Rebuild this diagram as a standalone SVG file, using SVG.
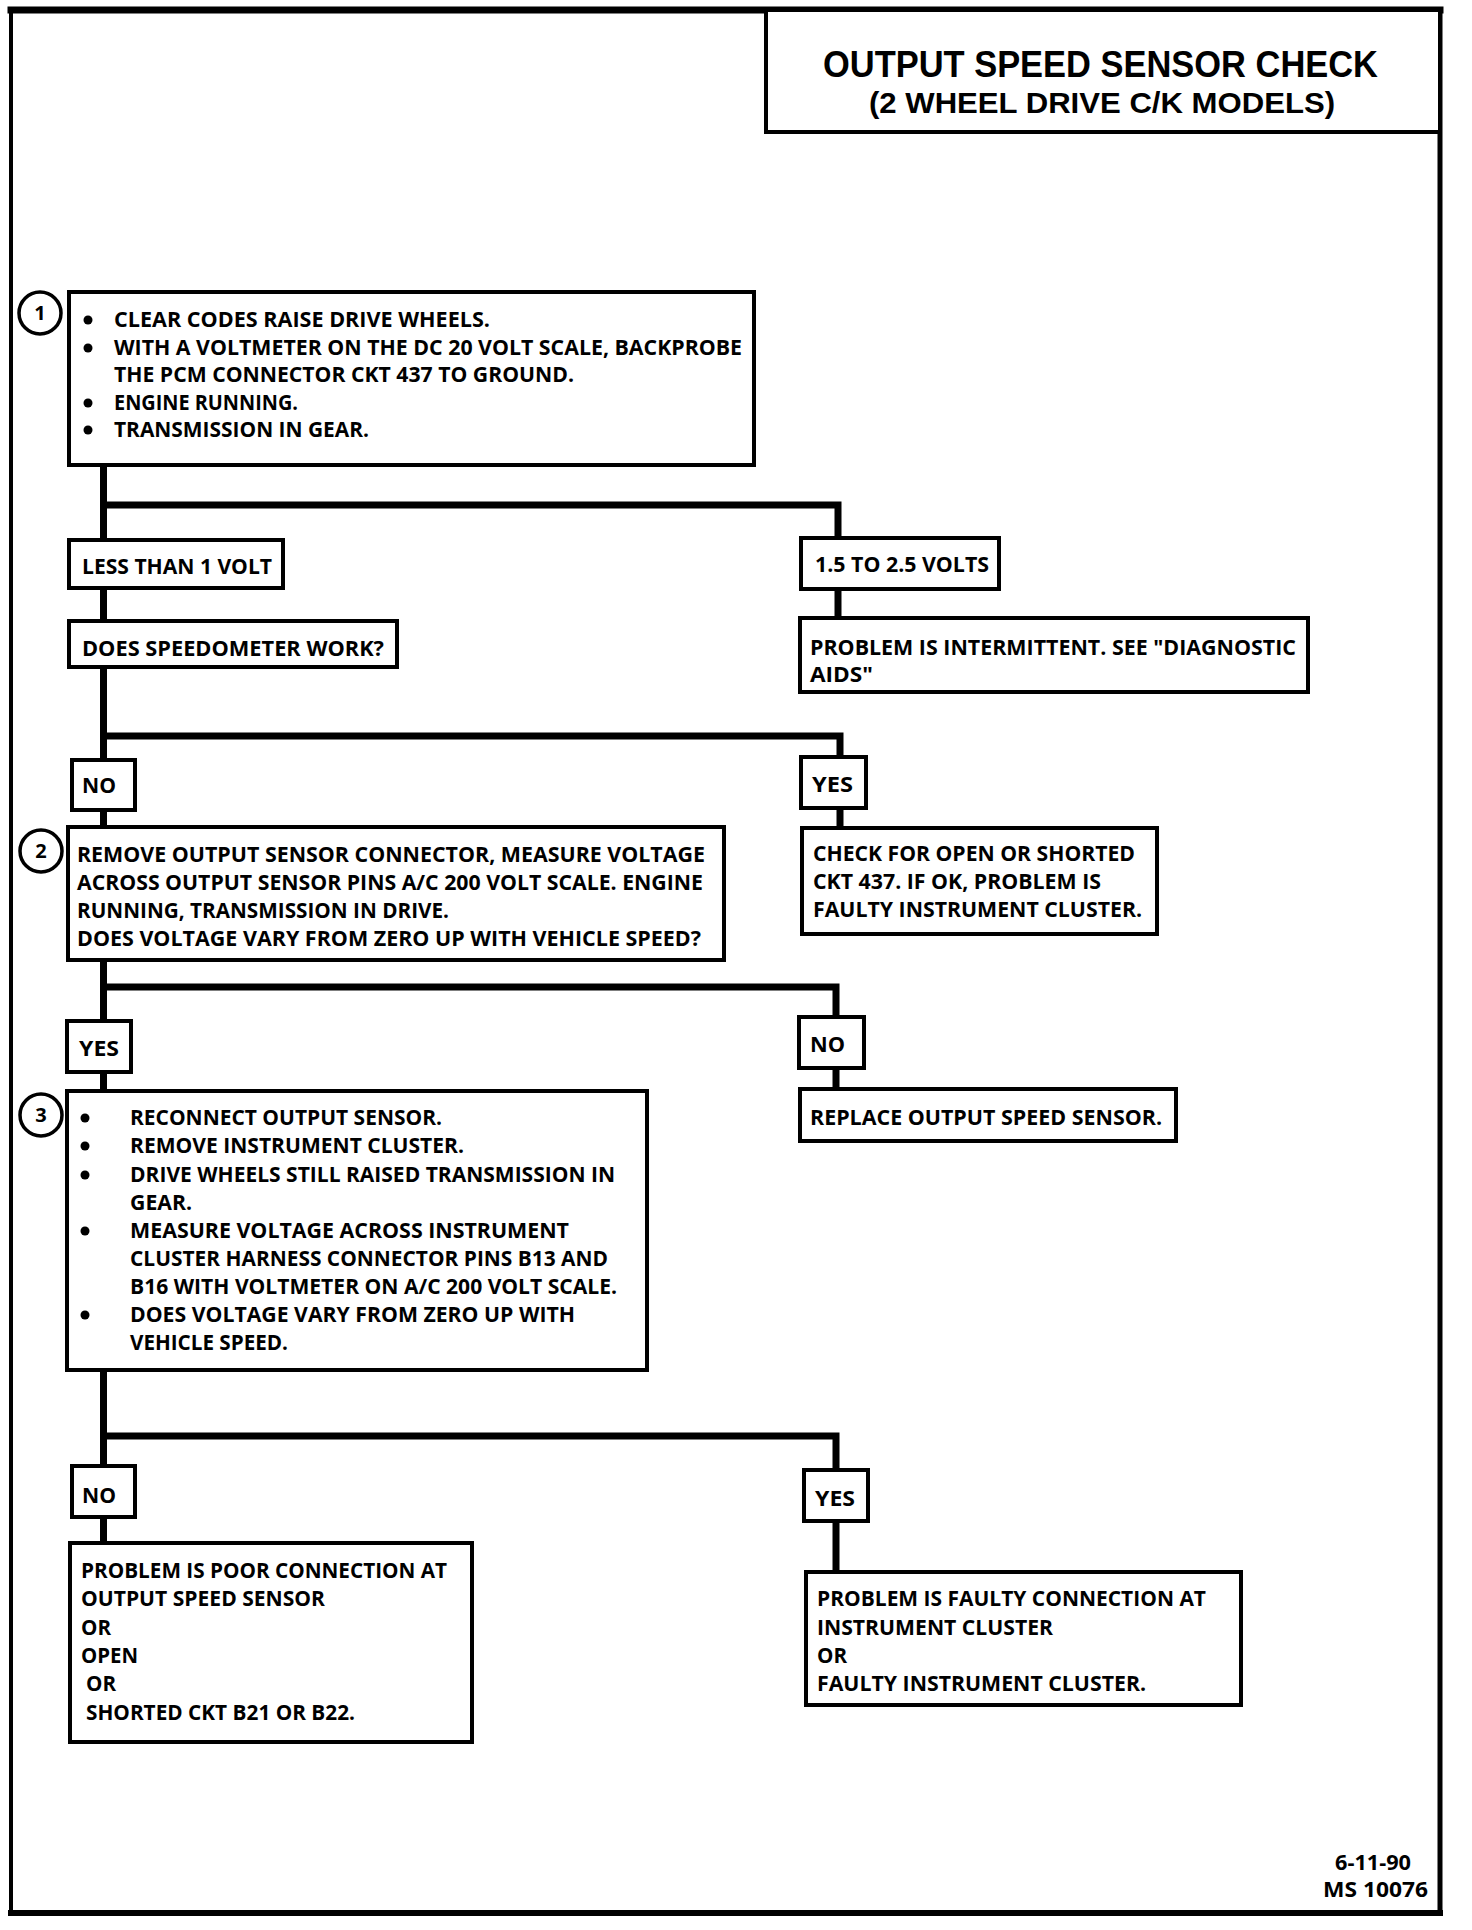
<svg xmlns="http://www.w3.org/2000/svg" width="1472" height="1930" viewBox="0 0 1472 1930">
<style>
.frame{fill:none;stroke:#000;stroke-linecap:square}
.box{fill:#fff;stroke:#000;stroke-width:4}
.conn{fill:none;stroke:#000;stroke-width:7;stroke-linecap:square;stroke-linejoin:miter}
.t{font-family:"Open Sans","Liberation Sans",sans-serif;font-weight:700;font-size:21px;fill:#000}
.title1{font-family:"Liberation Sans","Open Sans",sans-serif;font-weight:700;font-size:37px;fill:#000}
.title2{font-family:"Liberation Sans","Open Sans",sans-serif;font-weight:700;font-size:30px;fill:#000}
.foot{font-family:"Open Sans","Liberation Sans",sans-serif;font-weight:700;font-size:22px;fill:#000}
.num{font-family:"Open Sans","Liberation Sans",sans-serif;font-weight:700;font-size:20px;fill:#000;text-anchor:middle}
.circ{fill:#fff;stroke:#000;stroke-width:3.5}
.dot{fill:#000}
</style>
<rect x="0" y="0" width="1472" height="1930" fill="#fff"/>
<g id="frame">
<line class="frame" x1="11" y1="10" x2="1440" y2="10" stroke-width="7"/>
<line class="frame" x1="11" y1="10" x2="11" y2="1913" stroke-width="4"/>
<line class="frame" x1="1440" y1="10" x2="1440" y2="1913" stroke-width="5"/>
<line class="frame" x1="11" y1="1913" x2="1440" y2="1913" stroke-width="6"/>
</g>
<g id="title">
<rect x="766" y="10" width="674" height="122" fill="#fff" stroke="#000" stroke-width="4"/>
<text class="title1" x="823" y="77" textLength="555" lengthAdjust="spacingAndGlyphs">OUTPUT SPEED SENSOR CHECK</text>
<text class="title2" x="869" y="113" textLength="466" lengthAdjust="spacingAndGlyphs">(2 WHEEL DRIVE C/K MODELS)</text>
</g>
<g id="connectors">
<path class="conn" d="M103.5,465 V540"/>
<path class="conn" d="M103.5,505 H838 V538"/>
<path class="conn" d="M103.5,588 V621"/>
<path class="conn" d="M838,589 V618"/>
<path class="conn" d="M103.5,667 V760"/>
<path class="conn" d="M103.5,736 H840 V757"/>
<path class="conn" d="M103.5,810 V827"/>
<path class="conn" d="M840,808 V828"/>
<path class="conn" d="M103.5,960 V1021"/>
<path class="conn" d="M103.5,987 H836 V1017"/>
<path class="conn" d="M103.5,1072 V1091"/>
<path class="conn" d="M836,1068 V1089"/>
<path class="conn" d="M103.5,1370 V1466"/>
<path class="conn" d="M103.5,1436 H836 V1470"/>
<path class="conn" d="M103.5,1517 V1543"/>
<path class="conn" d="M836,1521 V1572"/>
</g>
<g id="step1">
<circle class="circ" cx="40" cy="313" r="21"/>
<text class="num" x="40" y="320">1</text>
<rect class="box" x="69" y="292" width="685" height="173"/>
<circle class="dot" cx="88" cy="320" r="4.5"/>
<circle class="dot" cx="88" cy="348" r="4.5"/>
<circle class="dot" cx="88" cy="403" r="4.5"/>
<circle class="dot" cx="88" cy="430" r="4.5"/>
<text class="t" x="114" y="327" textLength="376" lengthAdjust="spacingAndGlyphs">CLEAR CODES RAISE DRIVE WHEELS.</text>
<text class="t" x="114" y="355" textLength="628" lengthAdjust="spacingAndGlyphs">WITH A VOLTMETER ON THE DC 20 VOLT SCALE, BACKPROBE</text>
<text class="t" x="114" y="382" textLength="460" lengthAdjust="spacingAndGlyphs">THE PCM CONNECTOR CKT 437 TO GROUND.</text>
<text class="t" x="114" y="410" textLength="184" lengthAdjust="spacingAndGlyphs">ENGINE RUNNING.</text>
<text class="t" x="114" y="437" textLength="255" lengthAdjust="spacingAndGlyphs">TRANSMISSION IN GEAR.</text>
</g>
<g id="less-than-1-volt">
<rect class="box" x="69" y="540" width="214" height="48"/>
<text class="t" x="82" y="574" textLength="190" lengthAdjust="spacingAndGlyphs">LESS THAN 1 VOLT</text>
</g>
<g id="volts-1-5-2-5">
<rect class="box" x="801" y="538" width="198" height="51"/>
<text class="t" x="815" y="572" textLength="174" lengthAdjust="spacingAndGlyphs">1.5 TO 2.5 VOLTS</text>
</g>
<g id="speedometer">
<rect class="box" x="69" y="621" width="328" height="46"/>
<text class="t" x="82" y="656" textLength="302" lengthAdjust="spacingAndGlyphs">DOES SPEEDOMETER WORK?</text>
</g>
<g id="intermittent">
<rect class="box" x="800" y="618" width="508" height="74"/>
<text class="t" x="810" y="655" textLength="486" lengthAdjust="spacingAndGlyphs">PROBLEM IS INTERMITTENT.  SEE "DIAGNOSTIC</text>
<text class="t" x="810" y="682" textLength="63" lengthAdjust="spacingAndGlyphs">AIDS"</text>
</g>
<g id="no-1">
<rect class="box" x="72" y="760" width="63" height="50"/>
<text class="t" x="82" y="793" textLength="34" lengthAdjust="spacingAndGlyphs">NO</text>
</g>
<g id="yes-1">
<rect class="box" x="801" y="757" width="65" height="51"/>
<text class="t" x="812" y="792" textLength="41" lengthAdjust="spacingAndGlyphs">YES</text>
</g>
<g id="step2">
<circle class="circ" cx="41" cy="851" r="21"/>
<text class="num" x="41" y="858">2</text>
<rect class="box" x="68" y="827" width="656" height="133"/>
<text class="t" x="77" y="862" textLength="628" lengthAdjust="spacingAndGlyphs">REMOVE OUTPUT SENSOR CONNECTOR, MEASURE VOLTAGE</text>
<text class="t" x="77" y="890" textLength="626" lengthAdjust="spacingAndGlyphs">ACROSS OUTPUT SENSOR PINS A/C 200 VOLT SCALE.  ENGINE</text>
<text class="t" x="77" y="918" textLength="372" lengthAdjust="spacingAndGlyphs">RUNNING, TRANSMISSION IN DRIVE.</text>
<text class="t" x="77" y="946" textLength="624" lengthAdjust="spacingAndGlyphs">DOES VOLTAGE VARY FROM ZERO UP WITH VEHICLE SPEED?</text>
</g>
<g id="check-ckt437">
<rect class="box" x="802" y="828" width="355" height="106"/>
<text class="t" x="813" y="861" textLength="322" lengthAdjust="spacingAndGlyphs">CHECK FOR OPEN OR SHORTED</text>
<text class="t" x="813" y="889" textLength="288" lengthAdjust="spacingAndGlyphs">CKT 437.  IF OK, PROBLEM IS</text>
<text class="t" x="813" y="917" textLength="329" lengthAdjust="spacingAndGlyphs">FAULTY INSTRUMENT CLUSTER.</text>
</g>
<g id="yes-2">
<rect class="box" x="67" y="1021" width="64" height="51"/>
<text class="t" x="79" y="1056" textLength="40" lengthAdjust="spacingAndGlyphs">YES</text>
</g>
<g id="no-2">
<rect class="box" x="799" y="1017" width="65" height="51"/>
<text class="t" x="810" y="1052" textLength="35" lengthAdjust="spacingAndGlyphs">NO</text>
</g>
<g id="replace-sensor">
<rect class="box" x="800" y="1089" width="376" height="52"/>
<text class="t" x="810" y="1125" textLength="352" lengthAdjust="spacingAndGlyphs">REPLACE OUTPUT SPEED SENSOR.</text>
</g>
<g id="step3">
<circle class="circ" cx="41" cy="1115" r="21"/>
<text class="num" x="41" y="1122">3</text>
<rect class="box" x="67" y="1091" width="580" height="279"/>
<circle class="dot" cx="85" cy="1118" r="4.5"/>
<circle class="dot" cx="85" cy="1146" r="4.5"/>
<circle class="dot" cx="85" cy="1175" r="4.5"/>
<circle class="dot" cx="85" cy="1231" r="4.5"/>
<circle class="dot" cx="85" cy="1315" r="4.5"/>
<text class="t" x="130" y="1125" textLength="312" lengthAdjust="spacingAndGlyphs">RECONNECT OUTPUT SENSOR.</text>
<text class="t" x="130" y="1153" textLength="334" lengthAdjust="spacingAndGlyphs">REMOVE INSTRUMENT CLUSTER.</text>
<text class="t" x="130" y="1182" textLength="485" lengthAdjust="spacingAndGlyphs">DRIVE WHEELS STILL RAISED TRANSMISSION IN</text>
<text class="t" x="130" y="1210" textLength="62" lengthAdjust="spacingAndGlyphs">GEAR.</text>
<text class="t" x="130" y="1238" textLength="439" lengthAdjust="spacingAndGlyphs">MEASURE VOLTAGE ACROSS INSTRUMENT</text>
<text class="t" x="130" y="1266" textLength="478" lengthAdjust="spacingAndGlyphs">CLUSTER HARNESS CONNECTOR PINS B13 AND</text>
<text class="t" x="130" y="1294" textLength="487" lengthAdjust="spacingAndGlyphs">B16 WITH VOLTMETER ON A/C 200 VOLT SCALE.</text>
<text class="t" x="130" y="1322" textLength="445" lengthAdjust="spacingAndGlyphs">DOES VOLTAGE VARY FROM ZERO UP WITH</text>
<text class="t" x="130" y="1350" textLength="158" lengthAdjust="spacingAndGlyphs">VEHICLE SPEED.</text>
</g>
<g id="no-3">
<rect class="box" x="72" y="1466" width="63" height="51"/>
<text class="t" x="82" y="1503" textLength="34" lengthAdjust="spacingAndGlyphs">NO</text>
</g>
<g id="yes-3">
<rect class="box" x="804" y="1470" width="64" height="51"/>
<text class="t" x="815" y="1506" textLength="40" lengthAdjust="spacingAndGlyphs">YES</text>
</g>
<g id="poor-connection">
<rect class="box" x="70" y="1543" width="402" height="199"/>
<text class="t" x="81" y="1578" textLength="366" lengthAdjust="spacingAndGlyphs">PROBLEM IS POOR CONNECTION AT</text>
<text class="t" x="81" y="1606" textLength="244" lengthAdjust="spacingAndGlyphs">OUTPUT SPEED SENSOR</text>
<text class="t" x="81" y="1635" textLength="30" lengthAdjust="spacingAndGlyphs">OR</text>
<text class="t" x="81" y="1663" textLength="57" lengthAdjust="spacingAndGlyphs">OPEN</text>
<text class="t" x="86" y="1691" textLength="30" lengthAdjust="spacingAndGlyphs">OR</text>
<text class="t" x="86" y="1720" textLength="269" lengthAdjust="spacingAndGlyphs">SHORTED CKT B21 OR B22.</text>
</g>
<g id="faulty-connection">
<rect class="box" x="806" y="1572" width="435" height="133"/>
<text class="t" x="817" y="1606" textLength="389" lengthAdjust="spacingAndGlyphs">PROBLEM IS FAULTY CONNECTION AT</text>
<text class="t" x="817" y="1635" textLength="236" lengthAdjust="spacingAndGlyphs">INSTRUMENT CLUSTER</text>
<text class="t" x="817" y="1663" textLength="30" lengthAdjust="spacingAndGlyphs">OR</text>
<text class="t" x="817" y="1691" textLength="329" lengthAdjust="spacingAndGlyphs">FAULTY INSTRUMENT CLUSTER.</text>
</g>
<g id="footer">
<text class="foot" x="1335" y="1870" textLength="76" lengthAdjust="spacingAndGlyphs">6-11-90</text>
<text class="foot" x="1323" y="1897" textLength="105" lengthAdjust="spacingAndGlyphs">MS 10076</text>
</g>
</svg>
